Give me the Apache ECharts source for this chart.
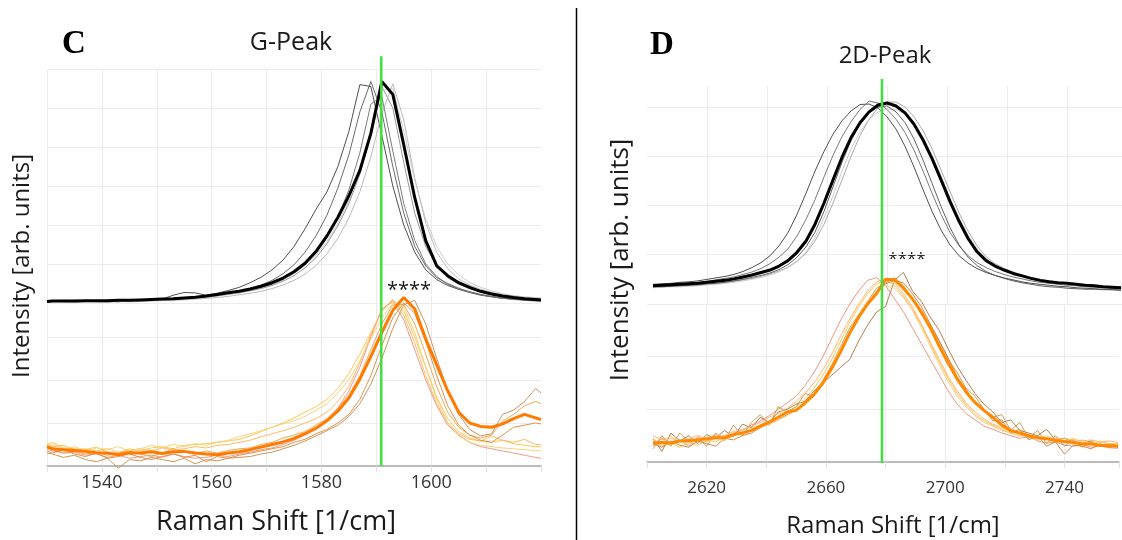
<!DOCTYPE html>
<html>
<head>
<meta charset="utf-8">
<script src="https://cdn.jsdelivr.net/npm/echarts@6/dist/echarts.min.js"></script>
<style>
  html, body { margin: 0; padding: 0; background: #fff; }
  #chart { width: 1122px; height: 540px; }
</style>
</head>
<body>
<div id="chart"></div>
<script>
// ---------- panel C : G-Peak ----------
const shiftG = [
  1530, 1531, 1533, 1535, 1537, 1539, 1541, 1543, 1545, 1547,
  1549, 1551, 1553, 1555, 1557, 1559, 1561, 1563, 1565, 1567,
  1569, 1571, 1573, 1575, 1577, 1579, 1581, 1583, 1585, 1587,
  1589, 1591, 1593, 1595, 1597, 1599, 1601, 1603, 1605, 1607,
  1609, 1611, 1613, 1615, 1617, 1619, 1620
];
// black spectra (upper stack)
const gBlackMean = [
  .04, .05, .05, .05, .06, .06, .06, .07, .07, .08,
  .09, .10, .11, .13, .15, .18, .22, .26, .30, .36,
  .43, .52, .64, .80, 1.02, 1.32, 1.72, 2.20, 2.75, 3.40,
  4.35, 5.68, 5.35, 4.05, 2.70, 1.60, .95, .70, .52, .40,
  .30, .23, .18, .14, .11, .09, .08
];
const gBlack1 = [
  .06, .05, .06, .04, .05, .06, .05, .03, .06, .08,
  .09, .10, .20, .27, .26, .20, .25, .32, .40, .52,
  .66, .85, 1.10, 1.45, 1.90, 2.40, 2.85, 3.50, 4.40, 5.60,
  5.55, 4.30, 3.00, 2.00, 1.30, .85, .60, .45, .35, .27,
  .20, .16, .12, .10, .08, .06, .06
];
const gBlack2 = [
  .04, .05, .04, .05, .06, .05, .04, .06, .05, .07,
  .08, .09, .10, .12, .14, .17, .20, .25, .30, .37,
  .46, .58, .75, .98, 1.30, 1.72, 2.25, 2.95, 3.80, 4.90,
  5.68, 4.90, 3.50, 2.30, 1.45, .95, .65, .50, .38, .29,
  .22, .17, .13, .10, .08, .07, .07
];
const gBlack3 = [
  .06, .05, .07, .06, .05, .07, .06, .05, .07, .06,
  .08, .09, .10, .11, .13, .15, .18, .22, .26, .31,
  .37, .45, .56, .70, .90, 1.16, 1.52, 1.98, 2.55, 3.30,
  4.30, 5.55, 5.00, 3.60, 2.30, 1.45, .95, .65, .48, .36,
  .28, .21, .16, .13, .10, .09, .08
];
const gBlack4 = [
  .03, .04, .03, .02, .04, .03, .02, .04, .03, .04,
  .05, .06, .07, .08, .10, .12, .14, .17, .21, .25,
  .30, .37, .46, .58, .74, .96, 1.26, 1.66, 2.18, 2.85,
  3.75, 4.85, 5.62, 4.70, 3.20, 2.05, 1.30, .88, .62, .46,
  .35, .27, .21, .17, .14, .12, .11
];
const gBlack5 = [
  .05, .06, .05, .07, .06, .05, .07, .08, .06, .08,
  .09, .10, .12, .13, .15, .17, .20, .24, .28, .33,
  .40, .48, .60, .76, .98, 1.28, 1.68, 2.20, 2.90, 3.85,
  5.10, 5.30, 3.90, 2.55, 1.60, 1.00, .68, .48, .36, .28,
  .21, .16, .12, .09, .07, .05, .05
];
const gBlack6 = [
  .04, .03, .05, .04, .03, .05, .04, .06, .05, .06,
  .07, .08, .09, .11, .13, .16, .19, .23, .27, .33,
  .40, .49, .61, .76, .96, 1.22, 1.58, 2.05, 2.62, 3.35,
  4.30, 5.45, 5.50, 4.40, 3.15, 2.15, 1.45, 1.00, .72, .53,
  .40, .31, .24, .19, .16, .14, .13
];
// orange spectra (lower stack)
const gOrangeMean = [
  .45, .40, .38, .36, .34, .31, .30, .26, .31, .30,
  .33, .29, .33, .34, .30, .28, .26, .30, .33, .38,
  .44, .50, .56, .64, .75, .88, 1.05, 1.28, 1.58, 2.02,
  2.55, 3.10, 3.62, 3.92, 3.65, 2.95, 2.35, 1.75, 1.25, 1.00,
  .92, .90, .98, 1.10, 1.20, 1.12, 1.08
];
const gOrange1 = [
  .50, .55, .42, .40, .38, .44, .32, .30, .40, .35,
  .42, .45, .40, .48, .50, .52, .55, .58, .62, .70,
  .80, .90, 1.00, 1.12, 1.25, 1.38, 1.55, 1.80, 2.15, 2.60,
  3.10, 3.60, 3.85, 3.60, 3.00, 2.30, 1.60, 1.10, .80, .65,
  .58, .55, .60, .52, .48, .45, .45
];
const gOrange2 = [
  .40, .35, .30, .32, .25, .28, .20, .25, .18, .22,
  .25, .20, .28, .22, .18, .20, .25, .22, .28, .32,
  .38, .42, .50, .60, .72, .85, 1.05, 1.35, 1.75, 2.30,
  3.00, 3.65, 3.82, 3.40, 2.70, 2.00, 1.40, .95, .72, .55,
  .45, .40, .35, .30, .25, .20, .18
];
const gOrange3 = [
  .30, .28, .20, .25, .15, .10, .18, -.05, .15, .12,
  .20, .15, .10, .18, .05, .15, .12, .18, .20, .22,
  .28, .32, .40, .48, .58, .70, .82, .95, 1.15, 1.45,
  1.90, 2.50, 3.20, 3.75, 3.85, 3.30, 2.50, 1.75, 1.20, .85,
  .70, .75, 1.20, 1.30, 1.50, 1.80, 1.70
];
const gOrange4 = [
  .42, .38, .30, .35, .28, .32, .25, .30, .35, .28,
  .22, .30, .40, .32, .28, .35, .30, .36, .40, .42,
  .50, .55, .65, .72, .80, .95, 1.10, 1.35, 1.65, 2.10,
  2.70, 3.30, 3.75, 3.75, 3.30, 2.60, 1.85, 1.25, .90, .72,
  .65, .72, 1.05, 1.20, 1.40, 1.50, 1.45
];
const gOrange5 = [
  .50, .45, .48, .38, .40, .35, .40, .32, .36, .40,
  .35, .42, .38, .40, .45, .42, .48, .50, .55, .60,
  .68, .75, .82, .90, 1.00, 1.10, 1.25, 1.50, 1.85, 2.40,
  3.05, 3.60, 3.88, 3.50, 2.85, 2.10, 1.45, 1.00, .75, .62,
  .58, .70, .60, .55, .62, .50, .50
];
const gOrange6 = [
  .35, .30, .38, .28, .22, .30, .18, .22, .28, .20,
  .15, .22, .28, .20, .25, .10, .22, .18, .25, .30,
  .35, .40, .45, .55, .62, .75, .85, 1.00, 1.20, 1.55,
  2.10, 2.80, 3.45, 3.80, 3.55, 2.90, 2.10, 1.40, .95, .72,
  .60, .55, .72, .90, .95, 1.00, .98
];
const gOrange7 = [
  .45, .50, .40, .45, .35, .42, .38, .45, .35, .40,
  .48, .42, .50, .45, .52, .48, .55, .60, .68, .75,
  .82, .90, .98, 1.05, 1.15, 1.30, 1.45, 1.70, 2.00, 2.45,
  2.95, 3.45, 3.78, 3.70, 3.10, 2.30, 1.55, 1.00, .70, .55,
  .48, .45, .42, .40, .38, .36, .35
];
const gReference = 1590.9;

// ---------- panel D : 2D-Peak ----------
const shift2D = [
  2602, 2605, 2608, 2611, 2614, 2617, 2620, 2623, 2626, 2629,
  2632, 2635, 2638, 2641, 2644, 2647, 2650, 2653, 2656, 2659,
  2662, 2665, 2668, 2671, 2674, 2677, 2680, 2683, 2686, 2689,
  2692, 2695, 2698, 2701, 2704, 2707, 2710, 2713, 2716, 2719,
  2722, 2725, 2728, 2731, 2734, 2737, 2740, 2743, 2746, 2749,
  2752, 2755, 2758
];
const dBlackMean = [
  .37, .38, .39, .40, .41, .42, .44, .46, .48, .51,
  .55, .59, .64, .69, .77, .88, 1.05, 1.28, 1.62, 2.05,
  2.52, 2.98, 3.38, 3.68, 3.90, 4.04, 4.08, 4.02, 3.88, 3.65,
  3.33, 2.95, 2.52, 2.08, 1.68, 1.33, 1.06, .88, .77, .69,
  .62, .57, .52, .48, .45, .43, .42, .40, .38, .37,
  .35, .34, .33
];
const dBlack1 = [
  .40, .41, .42, .44, .45, .47, .50, .53, .56, .60,
  .66, .74, .84, .98, 1.18, 1.45, 1.82, 2.25, 2.70, 3.10,
  3.45, 3.72, 3.92, 4.05, 4.06, 3.98, 3.80, 3.55, 3.20, 2.78,
  2.32, 1.88, 1.50, 1.20, .98, .83, .72, .64, .58, .53,
  .49, .45, .42, .40, .38, .36, .35, .33, .32, .31,
  .30, .29, .28
];
const dBlack2 = [
  .38, .39, .40, .41, .43, .44, .46, .49, .52, .55,
  .60, .65, .72, .82, .95, 1.12, 1.38, 1.72, 2.12, 2.58,
  3.02, 3.40, 3.70, 3.95, 4.12, 4.08, 3.95, 3.75, 3.48, 3.12,
  2.70, 2.25, 1.82, 1.45, 1.18, .98, .84, .74, .66, .60,
  .55, .51, .47, .44, .42, .40, .38, .37, .35, .34,
  .33, .32, .31
];
const dBlack3 = [
  .34, .35, .36, .37, .38, .39, .40, .42, .44, .46,
  .49, .52, .56, .61, .67, .75, .87, 1.03, 1.28, 1.62,
  2.05, 2.52, 3.00, 3.42, 3.75, 3.98, 4.10, 4.10, 4.00, 3.80,
  3.52, 3.15, 2.72, 2.28, 1.85, 1.48, 1.18, .96, .82, .72,
  .65, .59, .54, .50, .47, .44, .42, .41, .39, .38,
  .36, .35, .34
];
const dBlack4 = [
  .33, .34, .35, .35, .36, .37, .39, .40, .42, .44,
  .47, .50, .54, .59, .65, .74, .86, 1.05, 1.35, 1.75,
  2.20, 2.70, 3.15, 3.50, 3.75, 3.90, 3.96, 3.95, 3.85, 3.65,
  3.38, 3.02, 2.60, 2.15, 1.75, 1.40, 1.12, .92, .78, .69,
  .62, .56, .51, .47, .44, .42, .40, .38, .37, .36,
  .35, .34, .33
];
const dBlack5 = [
  .35, .35, .36, .37, .38, .39, .41, .42, .44, .47,
  .50, .54, .58, .63, .70, .80, .95, 1.16, 1.46, 1.88,
  2.38, 2.88, 3.32, 3.65, 3.88, 4.00, 4.02, 3.90, 3.68, 3.35,
  2.92, 2.45, 1.98, 1.55, 1.20, .95, .78, .66, .58, .52,
  .47, .43, .40, .37, .35, .34, .32, .31, .30, .30,
  .29, .29, .28
];
const dOrangeMean = [
  .36, .37, .36, .40, .41, .42, .44, .46, .46, .52,
  .55, .60, .68, .76, .85, .95, .98, 1.12, 1.28, 1.50,
  1.78, 2.10, 2.45, 2.75, 3.00, 3.20, 3.47, 3.46, 3.30, 3.10,
  2.85, 2.55, 2.20, 1.88, 1.58, 1.33, 1.13, .98, .85, .70,
  .60, .55, .50, .46, .44, .41, .39, .37, .34, .34,
  .32, .31, .30
];
const dOrange1 = [
  .45, .20, .55, .40, .50, .35, .52, .45, .60, .48,
  .72, .65, .85, .75, .95, 1.00, 1.10, 1.15, 1.35, 1.50,
  1.65, 1.80, 1.95, 2.30, 2.60, 2.85, 2.95, 3.45, 3.60, 3.25,
  3.05, 2.75, 2.50, 2.15, 1.82, 1.55, 1.30, 1.10, .95, .75,
  .80, .60, .55, .50, .62, .42, .45, .38, .35, .40,
  .30, .33, .28
];
const dOrange2 = [
  .30, .45, .35, .42, .30, .48, .40, .50, .45, .55,
  .60, .70, .78, .88, 1.00, 1.12, 1.25, 1.45, 1.70, 2.00,
  2.35, 2.70, 3.00, 3.25, 3.45, 3.50, 3.35, 3.10, 2.85, 2.55,
  2.25, 1.95, 1.65, 1.35, 1.10, .92, .80, .68, .62, .55,
  .50, .45, .48, .40, .36, .38, .32, .30, .33, .28,
  .30, .27, .26
];
const dOrange3 = [
  .40, .30, .35, .28, .38, .32, .42, .38, .48, .50,
  .55, .62, .70, .78, .86, .95, 1.05, 1.20, 1.40, 1.65,
  1.95, 2.30, 2.65, 2.95, 3.20, 3.38, 3.45, 3.35, 3.15, 2.90,
  2.60, 2.25, 1.90, 1.58, 1.30, 1.08, .90, .78, .70, .62,
  .55, .50, .52, .45, .42, .48, .40, .38, .42, .35,
  .38, .33, .35
];
const dOrange4 = [
  .25, .50, .30, .55, .38, .45, .30, .55, .40, .70,
  .50, .75, .90, .70, 1.05, .95, 1.05, 1.30, 1.25, 1.55,
  1.85, 2.20, 2.55, 2.80, 3.05, 3.30, 3.40, 3.50, 3.35, 3.10,
  2.80, 2.60, 2.30, 1.95, 1.70, 1.40, 1.25, 1.00, .85, .90,
  .60, .75, .45, .60, .35, .50, .30, .42, .28, .38,
  .30, .35, .32
];
const dOrange5 = [
  .50, .42, .48, .38, .45, .50, .44, .52, .50, .58,
  .62, .68, .75, .85, .92, 1.02, 1.15, 1.30, 1.50, 1.75,
  2.05, 2.40, 2.72, 3.00, 3.25, 3.42, 3.48, 3.40, 3.20, 2.95,
  2.62, 2.28, 1.95, 1.62, 1.35, 1.12, .95, .82, .72, .65,
  .58, .55, .50, .48, .46, .44, .45, .42, .40, .42,
  .38, .40, .37
];
const dOrange6 = [
  .35, .28, .40, .32, .28, .40, .35, .30, .45, .42,
  .50, .55, .65, .72, .80, .90, 1.00, 1.12, 1.30, 1.52,
  1.80, 2.12, 2.45, 2.75, 3.00, 3.22, 3.38, 3.45, 3.40, 3.20,
  2.95, 2.62, 2.30, 1.98, 1.62, 1.38, 1.12, 1.00, .78, .80,
  .55, .62, .42, .50, .30, .38, .15, .32, .30, .25,
  .35, .28, .30
];
const dOrange7 = [
  .42, .38, .45, .40, .35, .42, .38, .45, .42, .50,
  .55, .58, .65, .72, .80, .88, .98, 1.10, 1.28, 1.50,
  1.78, 2.10, 2.45, 2.78, 3.05, 3.25, 3.35, 3.30, 3.12, 2.88,
  2.55, 2.20, 1.85, 1.52, 1.25, 1.05, .88, .75, .68, .60,
  .55, .50, .48, .45, .50, .42, .40, .45, .38, .36,
  .40, .35, .34
];
const dReference = 2678.3;

const chart = echarts.init(document.getElementById('chart'));

const FONT = '"Open Sans", "Liberation Sans", sans-serif';
const GRID_COLOR = '#ececec';

function spectrum(xs, ys, axis, color, width, opacity) {
  return {
    type: 'line',
    xAxisIndex: axis,
    yAxisIndex: axis,
    data: xs.map((x, i) => [x, ys[i]]),
    symbol: 'none',
    clip: false,
    silent: true,
    lineStyle: { color: color, width: width, opacity: opacity }
  };
}

function xAxisC(grid, bottom) {
  return {
    type: 'value', gridIndex: grid, min: 1530, max: 1620, interval: 10,
    axisLine: { show: bottom, onZero: false, lineStyle: { color: '#a8a8a8', width: 1.5 } },
    axisTick: { show: bottom, length: 6, lineStyle: { color: '#e2e2e2' } },
    axisLabel: {
      show: bottom, margin: 8, fontSize: 18, fontFamily: FONT, color: '#333',
      formatter: v => (v % 20 === 0 && v > 1530 && v < 1620) ? String(v) : ''
    },
    splitLine: { show: true, showMaxLine: false, lineStyle: { color: GRID_COLOR } }
  };
}

function xAxisD(grid, bottom) {
  return {
    type: 'value', gridIndex: grid, min: 2600, max: 2758.3, interval: 20,
    axisLine: { show: bottom, onZero: false, lineStyle: { color: '#a8a8a8', width: 1.5 } },
    axisTick: { show: bottom, length: 6, lineStyle: { color: '#e2e2e2' } },
    axisLabel: {
      show: bottom, margin: 18, fontSize: 17, fontFamily: FONT, color: '#333',
      formatter: v => ((v - 2620) % 40 === 0 && v > 2600 && v < 2750) ? String(v) : ''
    },
    splitLine: { show: true, showMinLine: false, showMaxLine: false, lineStyle: { color: GRID_COLOR } }
  };
}

function yAxis(grid, max, showMax) {
  return {
    type: 'value', gridIndex: grid, min: 0, max: max, interval: 1,
    axisLine: { show: false }, axisTick: { show: false }, axisLabel: { show: false },
    splitLine: { show: true, showMaxLine: showMax, lineStyle: { color: GRID_COLOR } }
  };
}

const grayC = ['#3c3c3c', '#5a5a5a', '#8c8c8c', '#b4b4b4', '#6e6e6e', '#c8c8c8'];
const orangeC = ['#ffc23a', '#ec9080', '#c98a4a', '#f0a040', '#ffb256', '#d98a3e', '#f6cf6e'];
const grayD = ['#3c3c3c', '#6a6a6a', '#a0a0a0', '#c6c6c6', '#505050'];
const orangeD = ['#a8733e', '#ea8c74', '#ffc040', '#c99442', '#ffb060', '#d27c34', '#f6c878'];

const series = [];
[gBlack1, gBlack2, gBlack3, gBlack4, gBlack5, gBlack6].forEach((s, i) =>
  series.push(spectrum(shiftG, s, 0, grayC[i], 1, 0.9)));
series.push(spectrum(shiftG, gBlackMean, 0, '#000', 3, 1));
[gOrange1, gOrange2, gOrange3, gOrange4, gOrange5, gOrange6, gOrange7].forEach((s, i) =>
  series.push(spectrum(shiftG, s, 1, orangeC[i], 1, 0.9)));
series.push(spectrum(shiftG, gOrangeMean, 1, '#ff7a00', 3, 1));

[dBlack1, dBlack2, dBlack3, dBlack4, dBlack5].forEach((s, i) =>
  series.push(spectrum(shift2D, s, 2, grayD[i], 1, 0.9)));
series.push(spectrum(shift2D, dBlackMean, 2, '#000', 3, 1));
[dOrange1, dOrange2, dOrange3, dOrange4, dOrange5, dOrange6, dOrange7].forEach((s, i) =>
  series.push(spectrum(shift2D, s, 3, orangeD[i], 1, 0.9)));
series.push(spectrum(shift2D, dOrangeMean, 3, '#ff8a00', 3, 1));

// green reference lines, spanning beyond the grid tops
series.push(spectrum([gReference, gReference], [-4.18, 6.33], 0, '#3fe03f', 2.5, 1));
series.push(spectrum([dReference, dReference], [-3.23, 4.57], 2, '#3fe03f', 2.5, 1));

function text(x, y, str, font, extra) {
  return Object.assign({
    type: 'text', x: x, y: y, silent: true,
    style: { text: str, font: font, fill: '#1a1a1a', align: 'center', verticalAlign: 'middle' }
  }, extra || {});
}

const letterShadow = { shadowBlur: 3, shadowColor: 'rgba(0,0,0,0.35)', shadowOffsetX: 1, shadowOffsetY: 2 };

const graphic = [
  { type: 'line', silent: true, shape: { x1: 576.5, y1: 8, x2: 576.5, y2: 540 }, style: { stroke: '#000', lineWidth: 1.5 } },
  text(74, 44, 'C', 'bold 33px "Liberation Serif", serif'),
  text(662, 45, 'D', 'bold 33px "Liberation Serif", serif'),
  text(291, 43, 'G-Peak', '25px ' + FONT),
  text(885, 56, '2D-Peak', '24px ' + FONT),
  text(22, 266, 'Intensity [arb. units]', '24px ' + FONT, { rotation: Math.PI / 2 }),
  text(621, 260, 'Intensity [arb. units]', '26px ' + FONT, { rotation: Math.PI / 2 }),
  text(276, 522, 'Raman Shift [1/cm]', '27px ' + FONT),
  text(893, 526, 'Raman Shift [1/cm]', '24px ' + FONT),
  text(409, 290, '****', '20px ' + FONT),
  text(907, 259, '****', '17px ' + FONT)
];
graphic[1].style = Object.assign(graphic[1].style, letterShadow, { fill: '#000' });
graphic[2].style = Object.assign(graphic[2].style, letterShadow, { fill: '#000' });

chart.setOption({
  animation: false,
  backgroundColor: '#fff',
  grid: [
    { left: 47, top: 69, width: 494, height: 234 },
    { left: 47, top: 303, width: 494, height: 163 },
    { left: 647, top: 86, width: 475, height: 218 },
    { left: 647, top: 304, width: 475, height: 158 }
  ],
  xAxis: [xAxisC(0, false), xAxisC(1, true), xAxisD(2, false), xAxisD(3, true)],
  yAxis: [yAxis(0, 6, true), yAxis(1, 3.79, false), yAxis(2, 4.426, false), yAxis(3, 3, true)],
  series: series,
  graphic: graphic
});
</script>
</body>
</html>
